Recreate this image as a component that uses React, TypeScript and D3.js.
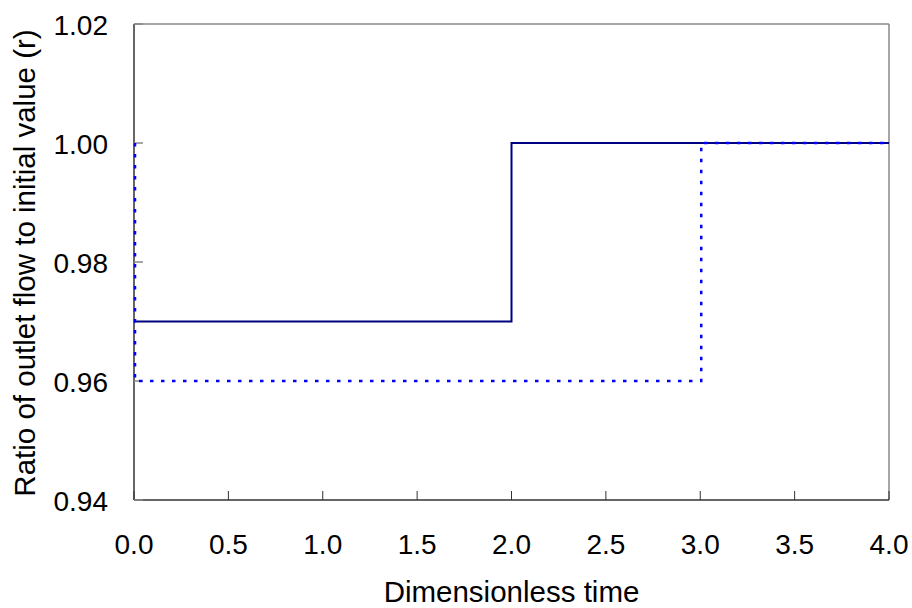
import React from "react";
import * as d3 from "d3";

const solidX = [0, 2, 2, 4];
const solidY = [0.97, 0.97, 1.0, 1.0];
const dottedX = [0, 0, 3, 3, 4];
const dottedY = [1.0, 0.96, 0.96, 1.0, 1.0];
const xTicks = [0, 0.5, 1, 1.5, 2, 2.5, 3, 3.5, 4];
const yTicks = [0.94, 0.96, 0.98, 1.0, 1.02];

export default function App() {
  const W = 912, H = 608;
  const m = { l: 134, r: 889, t: 24, b: 500 };
  const x = d3.scaleLinear().domain([0, 4]).range([m.l, m.r]);
  const y = d3.scaleLinear().domain([0.94, 1.02]).range([m.b, m.t]);
  const line = d3.line<[number, number]>().x(d => x(d[0])).y(d => y(d[1]));
  const solid = line(solidX.map((v, i) => [v, solidY[i]]) as [number, number][]) || "";
  const dotted = line(dottedX.map((v, i) => [v, dottedY[i]]) as [number, number][]) || "";
  const font = "'Liberation Sans', Arial, sans-serif";
  return (
    <svg width={W} height={H} style={{ position: "absolute", left: 0, top: 0, background: "#fff" }} fontFamily={font}>
      <rect x={0} y={0} width={W} height={H} fill="#fff" />
      <line x1={m.l} x2={m.r} y1={m.t} y2={m.t} stroke="#888" strokeWidth={1.5} />
      <line x1={m.r} x2={m.r} y1={m.t} y2={m.b} stroke="#888" strokeWidth={1.5} />
      <line x1={m.l} x2={m.l} y1={m.t} y2={m.b} stroke="#333" strokeWidth={1.5} />
      <line x1={m.l} x2={m.r} y1={m.b} y2={m.b} stroke="#333" strokeWidth={1.5} />
      {xTicks.map(t => (
        <g key={"x" + t}>
          <line x1={x(t)} x2={x(t)} y1={m.b} y2={m.b - 9} stroke="#333" strokeWidth={1} />
          <text x={x(t)} y={554} textAnchor="middle" fontSize={28} fill="#000">{t.toFixed(1)}</text>
        </g>
      ))}
      {yTicks.map(t => (
        <g key={"y" + t}>
          <line x1={m.l} x2={m.l + 9} y1={y(t)} y2={y(t)} stroke="#888" strokeWidth={1.5} />
          <text x={108} y={y(t) + 10.5} textAnchor="end" fontSize={28} fill="#000">{t.toFixed(2)}</text>
        </g>
      ))}
      <path d={solid} fill="none" stroke="#000080" strokeWidth={2} />
      <path d={dotted} fill="none" stroke="#0000ff" strokeWidth={2.5} strokeDasharray="3.5,7.5" transform="translate(1,0)" />
      <text x={(m.l + m.r) / 2} y={602} textAnchor="middle" fontSize={29.5} fill="#000">Dimensionless time</text>
      <text transform={`translate(35,263) rotate(-90)`} textAnchor="middle" fontSize={29.5} fill="#000">Ratio of outlet flow to initial value (r)</text>
    </svg>
  );
}
